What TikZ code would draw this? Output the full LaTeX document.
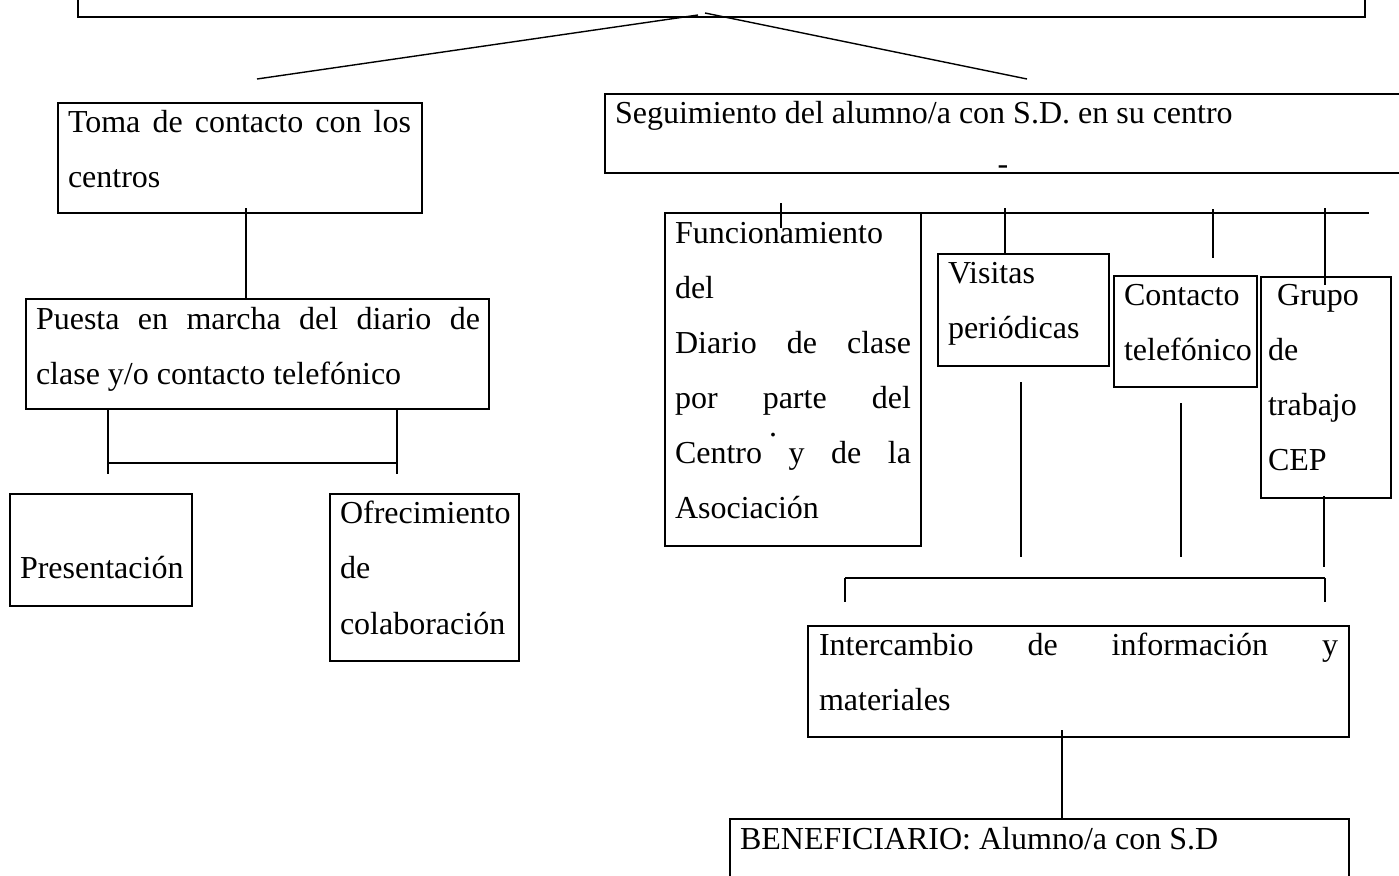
\documentclass[tikz,border=0pt]{standalone}
\usepackage{fontspec}
\setmainfont{Liberation Serif}
\usetikzlibrary{fit}
\begin{document}
\begin{tikzpicture}[x=1pt,y=-1pt,
  box/.style={draw, line width=1.8pt, inner sep=0pt, outer sep=0pt},
  conn/.style={line width=1.4pt},
  thinconn/.style={line width=1.1pt},
  txt/.style={anchor=base west, inner sep=0pt, outer sep=0pt, font=\fontsize{32}{55}\selectfont}]
\useasboundingbox (0,0) rectangle (1399,875);
% boxes
\node[box, fit={(78,-10) (1365,17)}] (top) {};
\node[box, fit={(58,103) (422,213)}] (toma) {};
\node[box, fit={(26,299) (489,409)}] (puesta) {};
\node[box, fit={(10,494) (192,606)}] (pres) {};
\node[box, fit={(330,494) (519,661)}] (ofrec) {};
\node[box, fit={(605,94) (1410,173)}] (seg) {};
\node[box, fit={(665,213) (921,546)}] (func) {};
\node[box, fit={(938,254) (1109,366)}] (visit) {};
\node[box, fit={(1114,276) (1257,387)}] (cont) {};
\node[box, fit={(1261,277) (1391,498)}] (grupo) {};
\node[box, fit={(808,626) (1349,737)}] (inter) {};
\node[box, fit={(730,819) (1349,895)}] (benef) {};
% texts
\node[txt] (toma1) at (68,132) {\makebox[343pt][s]{Toma de contacto con los}};
\node[txt] (toma2) at (68,187) {centros};
\node[txt] (puesta1) at (36,329) {\makebox[444pt][s]{Puesta en marcha del diario de}};
\node[txt] (puesta2) at (36,384) {clase y/o contacto telefónico};
\node[txt] (pres1) at (20,578) {Presentación};
\node[txt] (ofrec1) at (340,523) {Ofrecimiento};
\node[txt] (ofrec2) at (340,578) {de};
\node[txt] (ofrec3) at (340,634) {colaboración};
\node[txt] (seg1) at (615,123) {Seguimiento del alumno/a con S.D. en su centro};
\node[txt, anchor=base] (seg2) at (1003,174) {-};
\node[txt] (func1) at (675,243) {Funcionamiento};
\node[txt] (func2) at (675,298) {del};
\node[txt] (func3) at (675,353) {\makebox[236pt][s]{Diario de clase}};
\node[txt] (func4) at (675,408) {\makebox[236pt][s]{por parte del}};
\node[txt, anchor=base] (funcdot) at (773,436) {\smash{.}};
\node[txt] (func5) at (675,463) {\makebox[236pt][s]{Centro y de la}};
\node[txt] (func6) at (675,518) {Asociación};
\node[txt] (visit1) at (948,283) {Visitas};
\node[txt] (visit2) at (948,338) {periódicas};
\node[txt] (cont1) at (1124,305) {Contacto};
\node[txt] (cont2) at (1124,360) {telefónico};
\node[txt] (grupo1) at (1277,305) {Grupo};
\node[txt] (grupo2) at (1268,360) {de};
\node[txt] (grupo3) at (1268,415) {trabajo};
\node[txt] (grupo4) at (1268,470) {CEP};
\node[txt] (inter1) at (819,655) {\makebox[519pt][s]{Intercambio de información y}};
\node[txt] (inter2) at (819,710) {materiales};
\node[txt] (benef1) at (740,849) {BENEFICIARIO: Alumno/a con S.D};
% connector coordinates
\coordinate (apexL) at (698,15);
\coordinate (endL) at (257,79);
\coordinate (apexR) at (705,13);
\coordinate (endR) at (1027,79);
\coordinate (tomaout) at (246,208);
\coordinate (brL1) at (108,409);
\coordinate (brL2) at (108,474);
\coordinate (brR1) at (397,409);
\coordinate (brR2) at (397,474);
\coordinate (brHL) at (108,463);
\coordinate (brHR) at (397,463);
\coordinate (busL) at (771,213);
\coordinate (busR) at (1369,213);
\coordinate (t1a) at (781,203);
\coordinate (t1b) at (781,228);
\coordinate (t2a) at (1005,208);
\coordinate (t3a) at (1213,209);
\coordinate (t3b) at (1213,258);
\coordinate (t4a) at (1325,208);
\coordinate (t4b) at (1325,285);
\coordinate (v1a) at (1021,382);
\coordinate (v1b) at (1021,557);
\coordinate (v2a) at (1181,403);
\coordinate (v2b) at (1181,557);
\coordinate (v3a) at (1324,496);
\coordinate (v3b) at (1324,567);
\coordinate (bkL) at (845,578);
\coordinate (bkLd) at (845,602);
\coordinate (bkR) at (1325,578);
\coordinate (bkRd) at (1325,602);
\coordinate (interout) at (1062,730);
% connectors
\draw[conn] (apexL) -- (endL);
\draw[conn] (apexR) -- (endR);
\draw[conn] (tomaout) -- (tomaout |- puesta.north);
\draw[conn] (brL1) -- (brL2);
\draw[conn] (brR1) -- (brR2);
\draw[thinconn] (brHL) -- (brHR);
\draw[thinconn] (busL) -- (busR);
\draw[conn] (t1a) -- (t1b);
\draw[conn] (t2a) -- (t2a |- visit.north);
\draw[conn] (t3a) -- (t3b);
\draw[conn] (t4a) -- (t4b);
\draw[conn] (v1a) -- (v1b);
\draw[conn] (v2a) -- (v2b);
\draw[conn] (v3a) -- (v3b);
\draw[thinconn] (bkL) -- (bkR);
\draw[conn] (bkL) -- (bkLd);
\draw[conn] (bkR) -- (bkRd);
\draw[conn] (interout) -- (interout |- benef.north);
\end{tikzpicture}
\end{document}
